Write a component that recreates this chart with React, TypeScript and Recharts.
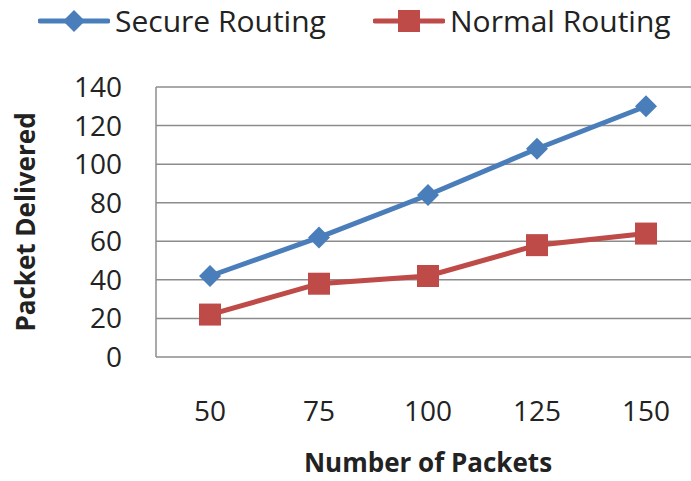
import React from "react";
import { LineChart, Line, XAxis, YAxis, CartesianGrid } from "recharts";

const packets = ["50", "75", "100", "125", "150"];
const secureRouting = [42, 62, 84, 108, 130];
const normalRouting = [22, 38, 42, 58, 64];
const yTicks = [0, 20, 40, 60, 80, 100, 120, 140];

const BLUE = "#4a7ebb";
const RED = "#be4b48";
const FONT = "'Open Sans', sans-serif";

const data = packets.map((p, i) => ({ name: p, secure: secureRouting[i], normal: normalRouting[i] }));

const Diamond = (props: any) => {
  const { cx, cy } = props;
  if (cx == null || cy == null) return null;
  const r = 11;
  return <path d={`M${cx},${cy - r}L${cx + r},${cy}L${cx},${cy + r}L${cx - r},${cy}Z`} fill={BLUE} />;
};

const Square = (props: any) => {
  const { cx, cy } = props;
  if (cx == null || cy == null) return null;
  const s = 11;
  return <rect x={cx - s} y={cy - s} width={s * 2} height={s * 2} fill={RED} />;
};

function LegendItem({ color, label, square, left }: { color: string; label: string; square?: boolean; left: number }) {
  return (
    <div style={{ position: "absolute", left, top: 6, display: "flex", alignItems: "center" }}>
      <svg width={72} height={30}>
        <line x1={2} y1={15} x2={70} y2={15} stroke={color} strokeWidth={5} strokeLinecap="round" />
        {square ? (
          <rect x={25} y={4} width={22} height={22} fill={color} />
        ) : (
          <path d="M36,4L47,15L36,26L25,15Z" fill={color} />
        )}
      </svg>
      <span style={{ marginLeft: 5, fontSize: 30, color: "#222", lineHeight: "30px", whiteSpace: "nowrap" }}>{label}</span>
    </div>
  );
}

export default function App() {
  return (
    <div style={{ position: "absolute", left: 0, top: 0, width: 691, height: 481, overflow: "hidden", background: "#fff", fontFamily: FONT }}>
      <LegendItem color={BLUE} label="Secure Routing" left={38} />
      <LegendItem color={RED} label="Normal Routing" square left={373} />
      <LineChart width={712} height={481} data={data} margin={{ top: 87, right: 12, bottom: 0, left: 0 }}>
        <CartesianGrid vertical={false} stroke="#8c8c8c" strokeWidth={1.5} />
        <XAxis
          dataKey="name"
          axisLine={false}
          tickLine={false}
          height={124}
          tickMargin={38}
          padding={{ left: 54, right: 54 }}
          tick={{ fontSize: 28, fill: "#222", fontFamily: FONT }}
          label={{ value: "Number of Packets", position: "insideBottom", offset: 9, style: { fontSize: 26, fontWeight: "bold", fill: "#222", fontFamily: FONT } }}
        />
        <YAxis
          domain={[0, 140]}
          ticks={yTicks}
          width={156}
          axisLine={{ stroke: "#8c8c8c", strokeWidth: 1.5 }}
          tickLine={false}
          tickMargin={28}
          tick={{ fontSize: 28, fill: "#222", fontFamily: FONT }}
          label={{ value: "Packet Delivered", angle: -90, position: "insideLeft", offset: 26, style: { textAnchor: "middle", fontSize: 26, fontWeight: "bold", fill: "#222", fontFamily: FONT } }}
        />
        <Line dataKey="secure" name="Secure Routing" stroke={BLUE} strokeWidth={5} dot={<Diamond />} isAnimationActive={false} />
        <Line dataKey="normal" name="Normal Routing" stroke={RED} strokeWidth={5} dot={<Square />} isAnimationActive={false} />
      </LineChart>
    </div>
  );
}
